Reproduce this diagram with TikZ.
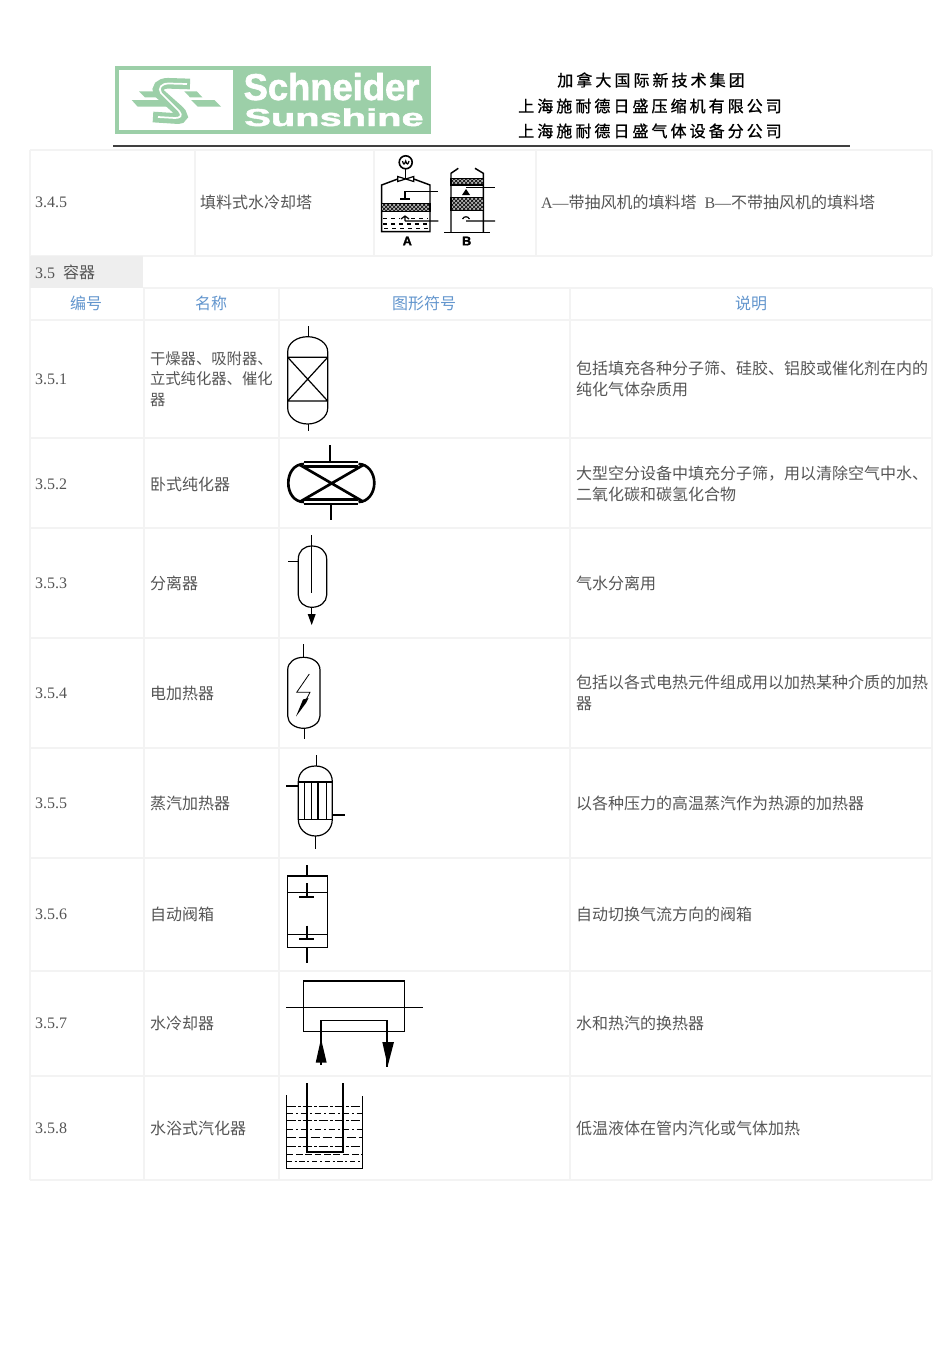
\documentclass[tikz,border=0pt]{standalone}
\usepackage{fontspec}
\usetikzlibrary{patterns}
\setmainfont{Liberation Serif}
\newfontfamily\cjk{Noto Sans CJK SC}
\newfontfamily\cjkhead[LetterSpace=19,FakeBold=0.9]{Noto Sans CJK SC}
\newfontfamily\logofont[BoldFeatures={FakeBold=1.6}]{Liberation Sans}
\definecolor{textgray}{RGB}{85,85,85}
\definecolor{gridgray}{RGB}{243,243,243}
\definecolor{cellgray}{RGB}{238,238,238}
\definecolor{headblue}{RGB}{98,149,205}
\definecolor{logogreen}{RGB}{156,207,168}
\tikzset{every picture/.style={line width=0.75pt}}
\tikzset{
  grid line/.style={draw=gridgray,line width=0.9pt},
  cell text/.style={anchor=west,inner sep=0.75pt,align=left,text=textgray,font=\fontsize{12}{15.5}\selectfont},
  head text/.style={inner sep=0.75pt,text=headblue,font=\fontsize{12}{15}\selectfont\cjk},
  firm text/.style={inner sep=0.75pt,text=black,font=\fontsize{12}{15}\selectfont\cjkhead},
  logo text/.style={anchor=base,inner sep=0pt,text=white,text height=0.72em,text depth=0pt},
  symbol/.style={draw=black,line width=0.9pt},
  thin symbol/.style={draw=black,line width=0.6pt},
  heavy symbol/.style={draw=black,line width=2pt},
  band/.style={draw=black,line width=0.9pt,fill=black!30,postaction={pattern=crosshatch}},
}
\begin{document}
\begin{tikzpicture}[x=0.75pt,y=0.75pt,yscale=-1,xscale=1]
\useasboundingbox (0,0) rectangle (950,1345);

%Logo
\fill [logogreen] (115,66) rectangle (431,134);
\fill [white] (119,70) rectangle (233,130);
\fill [logogreen] (139,91.3) -- (155.7,91.3) -- (161.7,97.3) -- (145,97.3) -- cycle;
\fill [logogreen] (131.7,100) -- (161.7,100) -- (166.7,106.7) -- (137.7,106.7) -- cycle;
\fill [logogreen] (184.3,91.3) -- (196.7,91.3) -- (202.3,97.3) -- (190,97.3) -- cycle;
\fill [logogreen] (191,100) -- (214.3,100) -- (221,106.7) -- (197.7,106.7) -- cycle;
\draw [draw=logogreen,line width=8pt] (190,84) -- (168,83.3) .. controls (160,83.3) and (156,88) .. (159,93) -- (177,109) .. controls (184,115) and (184,119) .. (176,118.5) -- (153,117);
\draw [draw=white,line width=1.3pt] (187,84) -- (169,83.5) .. controls (161,83.5) and (158,88) .. (161,93) -- (179,111) .. controls (183,116) and (180,118) .. (175,118) -- (158,117);

% Text Node
\node (logotop) at (331.5,100) [logo text,font=\logofont\bfseries\fontsize{25}{25}\selectfont,xscale=1.09,yscale=1.12] {Schneider};
\node (logobottom) at (334,126) [logo text,font=\logofont\bfseries\fontsize{18}{18}\selectfont,xscale=1.66,yscale=1.02] {Sunshine};
\node (firmone) at (651,80) [firm text] {加拿大国际新技术集团};
\node (firmtwo) at (650,106) [firm text] {上海施耐德日盛压缩机有限公司};
\node (firmthree) at (650,131) [firm text] {上海施耐德日盛气体设备分公司};
%Straight Lines
\draw [line width=0.9pt,draw=black!75] (113,146) -- (850,146);

%Upper table
\draw [grid line] (30,150) -- (932,150) (30,256) -- (932,256);
\draw [grid line] (30,150) -- (30,288) (195,150) -- (195,256) (374,150) -- (374,256) (536,150) -- (536,256) (932,150) -- (932,256);
%Section cell
\fill [cellgray] (30,256) rectangle (143,288);
%Lower table
\draw [grid line] (143,288) -- (932,288) (30,320) -- (932,320) (30,438) -- (932,438) (30,528) -- (932,528) (30,638) -- (932,638) (30,748) -- (932,748) (30,858) -- (932,858) (30,971) -- (932,971) (30,1076) -- (932,1076) (30,1180) -- (932,1180);
\draw [grid line] (30,288) -- (30,1180) (144,288) -- (144,1180) (279,288) -- (279,1180) (570,288) -- (570,1180) (932,288) -- (932,1180);

% Text Node
\node (code345) at (33.5,202) [cell text] {3.4.5};
\node (name345) at (198.5,202) [cell text] {\cjk 填料式水冷却塔};
\node (note345) at (539.5,202) [cell text] {A—{\cjk 带抽风机的填料塔}\ \ B—{\cjk 不带抽风机的填料塔}};
\node (section) at (33.5,272) [cell text] {3.5\ \ {\cjk 容器}};
\node (headcode) at (86,303.5) [head text] {编号};
\node (headname) at (211,303.5) [head text] {名称};
\node (headsymbol) at (424,303.5) [head text] {图形符号};
\node (headnote) at (751,303.5) [head text] {说明};

\node (code351) at (33.5,379) [cell text] {3.5.1};
\node (name351) at (148.5,379) [cell text,font=\fontsize{11.5}{15.5}\selectfont] {\cjk 干燥器、吸附器、\\\cjk 立式纯化器、催化\\\cjk 器};
\node (note351) at (574.5,379) [cell text] {\cjk 包括填充各种分子筛、硅胶、铝胶或催化剂在内的\\\cjk 纯化气体杂质用};
\node (code352) at (33.5,484) [cell text] {3.5.2};
\node (name352) at (148.5,484) [cell text] {\cjk 卧式纯化器};
\node (note352) at (574.5,484) [cell text] {\cjk 大型空分设备中填充分子筛，用以清除空气中水、\\\cjk 二氧化碳和碳氢化合物};
\node (code353) at (33.5,583) [cell text] {3.5.3};
\node (name353) at (148.5,583) [cell text] {\cjk 分离器};
\node (note353) at (574.5,583) [cell text] {\cjk 气水分离用};
\node (code354) at (33.5,693) [cell text] {3.5.4};
\node (name354) at (148.5,693) [cell text] {\cjk 电加热器};
\node (note354) at (574.5,693) [cell text] {\cjk 包括以各式电热元件组成用以加热某种介质的加热\\\cjk 器};
\node (code355) at (33.5,803) [cell text] {3.5.5};
\node (name355) at (148.5,803) [cell text] {\cjk 蒸汽加热器};
\node (note355) at (574.5,803) [cell text] {\cjk 以各种压力的高温蒸汽作为热源的加热器};
\node (code356) at (33.5,914) [cell text] {3.5.6};
\node (name356) at (148.5,914) [cell text] {\cjk 自动阀箱};
\node (note356) at (574.5,914) [cell text] {\cjk 自动切换气流方向的阀箱};
\node (code357) at (33.5,1023) [cell text] {3.5.7};
\node (name357) at (148.5,1023) [cell text] {\cjk 水冷却器};
\node (note357) at (574.5,1023) [cell text] {\cjk 水和热汽的换热器};
\node (code358) at (33.5,1128) [cell text] {3.5.8};
\node (name358) at (148.5,1128) [cell text] {\cjk 水浴式汽化器};
\node (note358) at (574.5,1128) [cell text] {\cjk 低温液体在管内汽化或气体加热};

%Tower A
\draw [symbol,line width=1.2pt] (405.7,162.3) circle [radius=6.5];
\draw [symbol] (402.5,161) .. controls (403.5,165) and (404.5,165) .. (405.7,161) .. controls (406.9,165) and (407.9,165) .. (409,161);
\draw [symbol] (405.7,169.3) -- (405.7,179);
\draw [symbol] (397.7,176.5) -- (397.7,181.5) -- (413.7,176.5) -- (413.7,181.5) -- cycle;
\draw [symbol,line width=1.1pt] (397.7,179) -- (381.7,185) -- (381.7,231.7) -- (430,231.7) -- (430,185) -- (413.7,179);
\draw [band] (381.7,203.3) rectangle (430,211.7);
\draw [symbol] (400,199) -- (410,199) (405,199) -- (405,191.7) -- (438.3,191.7);
\draw [symbol] (405,221) -- (438.3,221) (405,221) -- (405,216.5) (401,219) -- (405,216) -- (409,219);
\draw [symbol,dashed] (383,218.5) -- (400,218.5) (411,218.5) -- (428,218.5) (383,224) -- (428,224) (384,228.5) -- (428,228.5);
%Tower B
\draw [symbol,line width=1.1pt] (458.3,168.3) -- (451,173.3) -- (451,232.5) (475,168.3) -- (483.3,173.3) -- (483.3,232.5);
\draw [symbol] (444.3,232.5) -- (490,232.5);
\draw [band] (451,178.3) rectangle (483.3,185);
\draw [band] (451,197.7) rectangle (483.3,210.7);
\draw [symbol] (466,187.7) -- (495,187.7);
\fill [black] (466,189) -- (462,195) -- (470,195) -- cycle;
\draw [symbol] (466,221) -- (495,221) (462.5,219) .. controls (464,216) and (468,216) .. (469.5,219);
% Text Node
\node (labela) at (407.3,241) [inner sep=0pt,font=\logofont\bfseries\fontsize{9.5}{10}\selectfont] {A};
\node (labelb) at (466.7,241) [inner sep=0pt,font=\logofont\bfseries\fontsize{9.5}{10}\selectfont] {B};

%Shape 3.5.1
\draw [symbol] (287.7,351.7) .. controls (287.7,343) and (297,336.7) .. (307.7,336.7) .. controls (318,336.7) and (327.7,343) .. (327.7,351.7) -- (327.7,408.3) .. controls (327.7,417) and (318,424) .. (307.7,424) .. controls (297,424) and (287.7,417) .. (287.7,408.3) -- cycle;
\draw [symbol] (287.7,357.3) -- (327.7,357.3) (287.7,401) -- (327.7,401) (287.7,357.3) -- (327.7,401) (327.7,357.3) -- (287.7,401);
\draw [thin symbol] (308.3,326) -- (308.3,336.7) (308.3,424) -- (308.3,430.7);

%Shape 3.5.2
\draw [heavy symbol] (304,464) .. controls (294,464) and (288.3,473) .. (288.3,483) .. controls (288.3,493) and (294,502) .. (304,502);
\draw [heavy symbol] (358.5,464) .. controls (368,464) and (374.3,473) .. (374.3,483) .. controls (374.3,493) and (368,502) .. (358.5,502);
\draw [heavy symbol,line width=1.6pt] (304.3,462) -- (358.3,462) (304.3,466.5) -- (358.3,466.5) (304.3,499.5) -- (358.3,499.5) (304.3,504) -- (358.3,504);
\draw [heavy symbol] (300,465) -- (363.3,501.7) (300,501.7) -- (363.3,465);
\draw [heavy symbol] (330,445) -- (330,462) (331,504) -- (331,520);

%Shape 3.5.3
\draw [symbol] (298.3,559.3) .. controls (298.3,551) and (304,546) .. (312,546) .. controls (320,546) and (326.7,551) .. (326.7,559.3) -- (326.7,595) .. controls (326.7,602) and (320,607.3) .. (312,607.3) .. controls (304,607.3) and (298.3,602) .. (298.3,595) -- cycle;
\draw [thin symbol] (311.7,535) -- (311.7,592.7) (288.3,561) -- (298.3,561);
\draw [symbol] (311.7,607.3) -- (311.7,615);
\fill [black] (307.7,614) -- (315.7,614) -- (311.7,625) -- cycle;

%Shape 3.5.4
\draw [symbol] (287.7,670) .. controls (287.7,662) and (295,657.3) .. (303.5,657.3) .. controls (312,657.3) and (320,662) .. (320,670) -- (320,716) .. controls (320,723) and (312,728.3) .. (303.5,728.3) .. controls (295,728.3) and (287.7,723) .. (287.7,716) -- cycle;
\draw [thin symbol] (303.3,644) -- (303.3,657.3) (304.3,728.3) -- (304.3,739.3);
\draw [thin symbol] (309.3,674) -- (296.7,692.3) -- (310,692.3) -- (306,700);
\fill [black] (296,716.5) -- (303,699.5) -- (308.5,698) -- (306,703) -- cycle;

%Shape 3.5.5
\draw [symbol] (298.3,781.7) .. controls (298.3,772) and (306,766) .. (315.5,766) .. controls (325,766) and (332.3,772) .. (332.3,781.7) -- (332.3,819.3) .. controls (332.3,829) and (325,836) .. (315.5,836) .. controls (306,836) and (298.3,829) .. (298.3,819.3) -- cycle;
\draw [symbol,line width=1.3pt] (298.3,781.7) -- (332.3,781.7);
\draw [thin symbol] (298.3,819.3) -- (332.3,819.3) (304.3,781.7) -- (304.3,819.3) (311,781.7) -- (311,819.3) (326,781.7) -- (326,819.3);
\draw [symbol,line width=1.4pt] (318.3,781.7) -- (318.3,819.3);
\draw [symbol] (316.7,755) -- (316.7,766) (315.7,836) -- (315.7,849.3) (286,786) -- (298.3,786) (332.3,815) -- (345,815);

%Shape 3.5.6
\draw [symbol] (287.7,876) rectangle (327.7,947.7);
\draw [thin symbol] (287.7,892.7) -- (327.7,892.7) (287.7,934) -- (327.7,934);
\draw [symbol] (307,865) -- (307,876) (307,947.7) -- (307,963.3);
\draw [symbol] (307,883.3) -- (307,896.7) (307,925.7) -- (307,939) (299,939) -- (314.3,939);
\draw [symbol,line width=1.4pt] (299,896.7) -- (314.3,896.7);

%Shape 3.5.7
\draw [symbol,line width=1.1pt] (303.3,981) rectangle (404.3,1031.3);
\draw [symbol] (286,1007.3) -- (422.7,1007.3);
\draw [symbol,line width=1.1pt] (321,1065) -- (321,1020.3) -- (387,1020.3) -- (387,1067);
\fill [black] (321,1038.7) -- (315.7,1062.7) -- (326.7,1062.7) -- cycle;
\fill [black] (382.3,1042) -- (394,1042) -- (387.7,1066) -- cycle;

%Shape 3.5.8
\draw [symbol] (286.7,1095.3) -- (286.7,1168.7) -- (362.3,1168.7) -- (362.3,1096.3);
\draw [symbol,line width=1.3pt] (307,1083) -- (307,1152) -- (343,1152) -- (343,1083);
\draw [thin symbol,dash pattern=on 7pt off 1.5pt on 2pt off 1.5pt] (286.7,1106.3) -- (362.3,1106.3);
\draw [thin symbol,dash pattern=on 5pt off 2pt on 1.5pt off 2pt] (286.7,1113.3) -- (362.3,1113.3);
\draw [thin symbol,dash pattern=on 7pt off 1.5pt on 2pt off 1.5pt] (286.7,1120) -- (362.3,1120);
\draw [thin symbol,dash pattern=on 5pt off 2pt on 1.5pt off 2pt] (286.7,1129.3) -- (362.3,1129.3);
\draw [thin symbol,dash pattern=on 7pt off 2pt] (286.7,1137.3) -- (362.3,1137.3);
\draw [thin symbol,dash pattern=on 7pt off 1.5pt on 2pt off 1.5pt] (286.7,1146) -- (362.3,1146);
\draw [thin symbol,dash pattern=on 5pt off 2pt] (286.7,1154) -- (362.3,1154);
\draw [thin symbol,dash pattern=on 4pt off 2pt on 1.5pt off 2pt] (286.7,1161) -- (362.3,1161);

\end{tikzpicture}
\end{document}
